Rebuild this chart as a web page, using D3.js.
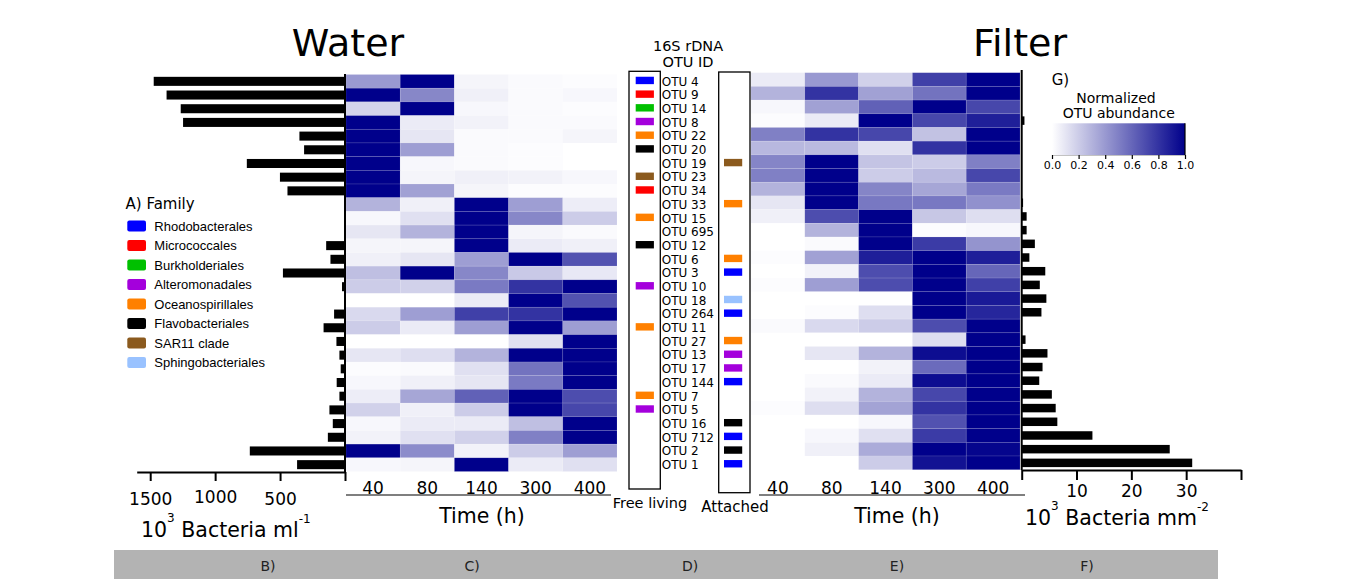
<!DOCTYPE html>
<html>
<head>
<meta charset="utf-8">
<script src="https://cdn.jsdelivr.net/npm/d3@7"></script>
<style>
  body { margin: 0; background: #fff; }
  svg { display: block; font-family: "DejaVu Sans", sans-serif; }
</style>
</head>
<body>
<svg id="chart" width="1358" height="579"></svg>
<script>
// ---- data ----
var otus = ["OTU 4", "OTU 9", "OTU 14", "OTU 8", "OTU 22", "OTU 20", "OTU 19", "OTU 23", "OTU 34", "OTU 33",
            "OTU 15", "OTU 695", "OTU 12", "OTU 6", "OTU 3", "OTU 10", "OTU 18", "OTU 264", "OTU 11", "OTU 27",
            "OTU 13", "OTU 17", "OTU 144", "OTU 7", "OTU 5", "OTU 16", "OTU 712", "OTU 2", "OTU 1"];
var times = ["40", "80", "140", "300", "400"];

// normalized OTU abundance, water (free living)
var waterAbund = [
  [0.40, 1.00, 0.04, 0.02, 0.01],
  [1.00, 0.47, 0.06, 0.02, 0.03],
  [0.17, 1.00, 0.03, 0.02, 0.01],
  [1.00, 0.08, 0.05, 0.02, 0.02],
  [1.00, 0.10, 0.02, 0.02, 0.04],
  [1.00, 0.38, 0.02, 0.01, 0.00],
  [1.00, 0.03, 0.02, 0.01, 0.00],
  [1.00, 0.04, 0.06, 0.05, 0.03],
  [1.00, 0.37, 0.04, 0.01, 0.01],
  [0.30, 0.06, 1.00, 0.38, 0.07],
  [0.03, 0.12, 1.00, 0.47, 0.20],
  [0.10, 0.30, 1.00, 0.04, 0.02],
  [0.04, 0.04, 1.00, 0.08, 0.06],
  [0.06, 0.10, 0.38, 1.00, 0.68],
  [0.25, 1.00, 0.47, 0.21, 0.09],
  [0.20, 0.18, 0.52, 0.80, 1.00],
  [0.00, 0.00, 0.08, 1.00, 0.68],
  [0.15, 0.38, 0.75, 0.80, 1.00],
  [0.20, 0.08, 0.38, 1.00, 0.38],
  [0.00, 0.00, 0.00, 0.12, 1.00],
  [0.10, 0.13, 0.30, 1.00, 1.00],
  [0.01, 0.02, 0.12, 0.55, 1.00],
  [0.03, 0.06, 0.10, 0.52, 1.00],
  [0.07, 0.35, 0.62, 1.00, 0.70],
  [0.18, 0.06, 0.20, 1.00, 0.72],
  [0.03, 0.08, 0.08, 0.25, 1.00],
  [0.05, 0.12, 0.18, 0.50, 1.00],
  [1.00, 0.45, 0.05, 0.20, 0.38],
  [0.03, 0.04, 1.00, 0.08, 0.12]
];

// normalized OTU abundance, filter (attached)
var filterAbund = [
  [0.08, 0.40, 0.18, 0.75, 1.00],
  [0.30, 0.80, 0.37, 0.55, 1.00],
  [0.03, 0.37, 0.62, 1.00, 0.72],
  [0.01, 0.08, 1.00, 0.72, 0.88],
  [0.50, 0.80, 0.72, 0.24, 1.00],
  [0.28, 0.27, 0.12, 0.80, 1.00],
  [0.48, 1.00, 0.23, 0.20, 0.50],
  [0.50, 1.00, 0.20, 0.27, 0.72],
  [0.30, 1.00, 0.48, 0.35, 0.52],
  [0.10, 1.00, 0.53, 0.53, 0.43],
  [0.06, 0.70, 1.00, 0.22, 0.13],
  [0.00, 0.30, 1.00, 0.01, 0.03],
  [0.00, 0.02, 1.00, 0.77, 0.42],
  [0.01, 0.37, 0.88, 1.00, 0.88],
  [0.00, 0.05, 0.70, 1.00, 0.60],
  [0.01, 0.38, 0.70, 1.00, 0.75],
  [0.00, 0.00, 0.00, 1.00, 0.90],
  [0.00, 0.01, 0.13, 1.00, 0.85],
  [0.02, 0.15, 0.20, 0.70, 1.00],
  [0.00, 0.00, 0.00, 0.13, 1.00],
  [0.00, 0.10, 0.30, 0.95, 1.00],
  [0.00, 0.00, 0.05, 0.58, 1.00],
  [0.00, 0.02, 0.08, 0.95, 1.00],
  [0.00, 0.05, 0.30, 0.72, 1.00],
  [0.01, 0.13, 0.36, 0.80, 1.00],
  [0.00, 0.00, 0.03, 0.68, 1.00],
  [0.00, 0.03, 0.12, 0.77, 1.00],
  [0.00, 0.06, 0.33, 1.00, 0.98],
  [0.00, 0.00, 0.20, 0.93, 1.00]
];

// 10^3 bacteria per ml (water) and per mm2 (filter)
var waterBacteria = [1473, 1374, 1265, 1247, 351, 315, 756, 501, 443, 0,
                     0, 0, 145, 112, 478, 23, 0, 84, 165, 66,
                     43, 33, 64, 43, 120, 94, 132, 733, 369];
var filterBacteria = [0, 0, 0, 0.5, 0, 0, 0, 0, 0, 0.25,
                      0.9, 0.9, 2.4, 1.4, 4.3, 3.3, 4.5, 3.6, 0, 0.7,
                      4.7, 3.8, 3.2, 5.5, 6.2, 6.5, 12.9, 27.0, 31.1];

var families = ["Rhodobacterales", "Micrococcales", "Burkholderiales", "Alteromonadales",
                "Oceanospirillales", "Flavobacteriales", "SAR11 clade", "Sphingobacteriales"];
var familyColors = ["#0000ff", "#ff0000", "#00c000", "#a400dc", "#ff8000", "#000000", "#8b5a1e", "#99c2ff"];

var freeFamily = ["Rhodobacterales", "Micrococcales", "Burkholderiales", "Alteromonadales", "Oceanospirillales",
                  "Flavobacteriales", null, "SAR11 clade", "Micrococcales", null,
                  "Oceanospirillales", null, "Flavobacteriales", null, null,
                  "Alteromonadales", null, null, "Oceanospirillales", null,
                  null, null, null, "Oceanospirillales", "Alteromonadales",
                  null, null, null, null];
var attachedFamily = [null, null, null, null, null,
                      null, "SAR11 clade", null, null, "Oceanospirillales",
                      null, null, null, "Oceanospirillales", "Rhodobacterales",
                      null, "Sphingobacteriales", "Rhodobacterales", null, "Oceanospirillales",
                      "Alteromonadales", "Alteromonadales", "Rhodobacterales", null, null,
                      "Flavobacteriales", "Rhodobacterales", "Flavobacteriales", "Rhodobacterales"];

var waterTicks = [0, 500, 1000, 1500];
var filterTicks = [0, 10, 20, 30, 40];
var colorbarTicks = [0, 0.2, 0.4, 0.6, 0.8, 1.0];
var panelLabels = ["B)", "C)", "D)", "E)", "F)"];

// ---- scales ----
var svg = d3.select("#chart");

var yW = d3.scaleBand().domain(otus).range([74.5, 471.5]);
var yF = d3.scaleBand().domain(otus).range([72.7, 469.7]);
var xW = d3.scaleBand().domain(times).range([346, 617]);
var xF = d3.scaleBand().domain(times).range([751, 1020]);
var color = d3.scaleLinear().domain([0, 1]).range(["#ffffff", "#00008b"]);
var famColor = d3.scaleOrdinal().domain(families).range(familyColors);

var xL = d3.scaleLinear().domain([0, 1604]).range([345, 136.7]);
var xR = d3.scaleLinear().domain([0, 40]).range([1021.7, 1241]);

var yBarW = d3.scaleBand().domain(otus).range([74.5, 471.5]).paddingInner(0.34).paddingOuter(0.17);
var yBarF = d3.scaleBand().domain(otus).range([72.7, 469.7]).paddingInner(0.38).paddingOuter(0.19);

// ---- titles ----
svg.append("text").attr("x", 348).attr("y", 56).attr("text-anchor", "middle")
  .style("font-size", "38px").text("Water");
svg.append("text").attr("x", 1020).attr("y", 56).attr("text-anchor", "middle")
  .style("font-size", "38px").text("Filter");
svg.append("text").attr("x", 688).attr("y", 51).attr("text-anchor", "middle")
  .style("font-size", "14.5px").text("16S rDNA");
svg.append("text").attr("x", 688).attr("y", 66.5).attr("text-anchor", "middle")
  .style("font-size", "14.5px").text("OTU ID");

// ---- heatmaps ----
function heatmap(data, x, y) {
  var g = svg.append("g");
  var rows = g.selectAll(".row")
    .data(data)
    .enter().append("g")
    .attr("class", "row")
    .attr("transform", function(d, i) { return "translate(0," + y(otus[i]) + ")"; });
  rows.selectAll(".cell")
    .data(function(d) { return d; })
    .enter().append("rect")
    .attr("class", "cell")
    .attr("x", function(d, j) { return x(times[j]); })
    .attr("width", x.bandwidth())
    .attr("height", y.bandwidth())
    .style("fill", function(d) { return color(d); })
    .style("stroke", "#fff")
    .style("stroke-opacity", 0.18)
    .style("stroke-width", 0.6);
}
heatmap(waterAbund, xW, yW);
heatmap(filterAbund, xF, yF);

// time axes (labels sit on an underline)
function timeAxis(x, x0, x1, cx) {
  var g = svg.append("g").attr("transform", "translate(0,495)")
    .call(d3.axisTop(x).tickSize(0).tickPadding(1.5));
  g.select(".domain").remove();
  g.selectAll("text").style("font-size", "17px").style("font-family", "DejaVu Sans").attr("fill", "#000");
  svg.append("line").attr("x1", x0).attr("x2", x1).attr("y1", 495).attr("y2", 495)
    .style("stroke", "#555").style("stroke-width", 1.5);
  svg.append("text").attr("x", cx).attr("y", 523).attr("text-anchor", "middle")
    .style("font-size", "20.5px").text("Time (h)");
}
timeAxis(xW, 346, 611, 482);
timeAxis(xF, 759, 1025, 897);

// ---- bars ----
svg.append("g").selectAll("rect")
  .data(waterBacteria)
  .enter().append("rect")
  .attr("x", function(d) { return xL(d); })
  .attr("y", function(d, i) { return yBarW(otus[i]); })
  .attr("width", function(d) { return xL(0) - xL(d); })
  .attr("height", yBarW.bandwidth())
  .style("fill", "#000");

svg.append("g").selectAll("rect")
  .data(filterBacteria)
  .enter().append("rect")
  .attr("x", xR(0))
  .attr("y", function(d, i) { return yBarF(otus[i]); })
  .attr("width", function(d) { return xR(d) - xR(0); })
  .attr("height", yBarF.bandwidth())
  .style("fill", "#000");

// bar axes
var axL = svg.append("g").attr("transform", "translate(0,472)")
  .call(d3.axisBottom(xL).tickValues(waterTicks).tickSize(9).tickSizeOuter(0).tickPadding(12)
    .tickFormat(function(d) { return d === 0 ? "" : d; }));
axL.selectAll("path, line").style("stroke", "#000").style("stroke-width", 2);
axL.selectAll("text").style("font-size", "17px").style("font-family", "DejaVu Sans").attr("fill", "#000")
  .attr("dy", function(d) { return d === 1000 ? "0.56em" : "0.71em"; });
svg.append("line").attr("x1", xL(0)).attr("x2", xL(0)).attr("y1", 74).attr("y2", 472)
  .style("stroke", "#000").style("stroke-width", 2);

var axR = svg.append("g").attr("transform", "translate(0,470)")
  .call(d3.axisBottom(xR).tickValues(filterTicks).tickSize(10).tickSizeOuter(0).tickPadding(4.5)
    .tickFormat(function(d) { return (d === 0 || d === 40) ? "" : d; }));
axR.selectAll("path, line").style("stroke", "#000").style("stroke-width", 2);
axR.selectAll("text").style("font-size", "17px").style("font-family", "DejaVu Sans").attr("fill", "#000");
svg.append("line").attr("x1", xR(0)).attr("x2", xR(0)).attr("y1", 70).attr("y2", 470)
  .style("stroke", "#000").style("stroke-width", 2);

// axis titles with super-scripts
function bactLabel(x, y, unit, exp) {
  var t = svg.append("text").attr("x", x).attr("y", y).style("font-size", "20.5px");
  t.append("tspan").text("10");
  t.append("tspan").attr("dy", -15).style("font-size", "12px").text("3");
  t.append("tspan").attr("dy", 15).text(" Bacteria " + unit);
  t.append("tspan").attr("dy", -14).style("font-size", "12px").text(exp);
}
bactLabel(141, 537, "ml", "-1");
bactLabel(1025, 525, "mm", "-2");

// ---- OTU id column ----
svg.append("rect").attr("x", 629).attr("y", 71.3).attr("width", 31.3).attr("height", 417.7)
  .style("fill", "none").style("stroke", "#000").style("stroke-width", 1.3);
svg.append("rect").attr("x", 718.7).attr("y", 72).attr("width", 31.3).attr("height", 420.7)
  .style("fill", "none").style("stroke", "#000").style("stroke-width", 1.3);

svg.append("g").selectAll("text")
  .data(otus)
  .enter().append("text")
  .attr("x", 661.7)
  .attr("y", function(d) { return yW(d) + yW.bandwidth() / 2; })
  .attr("dy", "0.36em")
  .style("font-size", "12px")
  .text(function(d) { return d; });

[[freeFamily, 635.7], [attachedFamily, 724]].forEach(function(p) {
  svg.append("g").selectAll("rect")
    .data(p[0].map(function(f, i) { return { fam: f, otu: otus[i] }; })
      .filter(function(d) { return d.fam !== null; }))
    .enter().append("rect")
    .attr("x", p[1])
    .attr("y", function(d) { return yW(d.otu) + yW.bandwidth() / 2 - 4.6; })
    .attr("width", 18.2)
    .attr("height", 7.4)
    .style("fill", function(d) { return famColor(d.fam); });
});

svg.append("text").attr("x", 650).attr("y", 508).attr("text-anchor", "middle")
  .style("font-size", "14.5px").text("Free living");
svg.append("text").attr("x", 735).attr("y", 512).attr("text-anchor", "middle")
  .style("font-size", "15px").text("Attached");

// ---- family legend ----
svg.append("text").attr("x", 125.5).attr("y", 209).style("font-size", "15px").text("A) Family");
var leg = svg.append("g").selectAll("g")
  .data(families)
  .enter().append("g")
  .attr("transform", function(d, i) { return "translate(127.3," + (226 + i * 19.5) + ")"; });
leg.append("rect").attr("y", -5.5).attr("width", 18.7).attr("height", 11).attr("rx", 2)
  .style("fill", function(d) { return famColor(d); });
leg.append("text").attr("x", 27).attr("dy", "0.36em")
  .style("font-family", "Liberation Sans, Arial, sans-serif").style("font-size", "13px")
  .text(function(d) { return d; });

// ---- colour bar ----
var grad = svg.append("defs").append("linearGradient").attr("id", "cbar");
grad.append("stop").attr("offset", "0%").attr("stop-color", color(0));
grad.append("stop").attr("offset", "100%").attr("stop-color", color(1));
var xC = d3.scaleLinear().domain([0, 1]).range([1052, 1185]);
svg.append("rect").attr("x", 1052).attr("y", 123.3).attr("width", 133).attr("height", 31.7)
  .style("fill", "url(#cbar)");
svg.append("line").attr("x1", 1185).attr("x2", 1185).attr("y1", 123.3).attr("y2", 155)
  .style("stroke", "#000").style("stroke-width", 1.2);
var axC = svg.append("g").attr("transform", "translate(0,155)")
  .call(d3.axisBottom(xC).tickValues(colorbarTicks).tickSize(4).tickSizeOuter(0).tickPadding(2)
    .tickFormat(d3.format(".1f")));
axC.select(".domain").style("stroke", "#999").style("stroke-width", 0.6);
axC.selectAll("line").style("stroke", "#000").style("stroke-width", 1.2);
axC.selectAll("text").style("font-size", "11px").style("font-family", "DejaVu Sans").attr("fill", "#000");
svg.append("text").attr("x", 1051.7).attr("y", 85).style("font-size", "15px").text("G)");
svg.append("text").attr("x", 1116).attr("y", 103.3).attr("text-anchor", "middle")
  .style("font-size", "14px").text("Normalized");
svg.append("text").attr("x", 1118.7).attr("y", 117.7).attr("text-anchor", "middle")
  .style("font-size", "14px").text("OTU abundance");

// ---- panel band ----
svg.append("rect").attr("x", 114).attr("y", 550).attr("width", 1104).attr("height", 29)
  .style("fill", "#b3b3b3");
var panelPos = [268, 472, 690, 897, 1087];
svg.append("g").selectAll("text")
  .data(panelLabels)
  .enter().append("text")
  .attr("x", function(d, i) { return panelPos[i]; })
  .attr("y", 566)
  .attr("dy", "0.36em")
  .attr("text-anchor", "middle")
  .style("font-size", "14px")
  .style("fill", "#222")
  .text(function(d) { return d; });
</script>
</body>
</html>
